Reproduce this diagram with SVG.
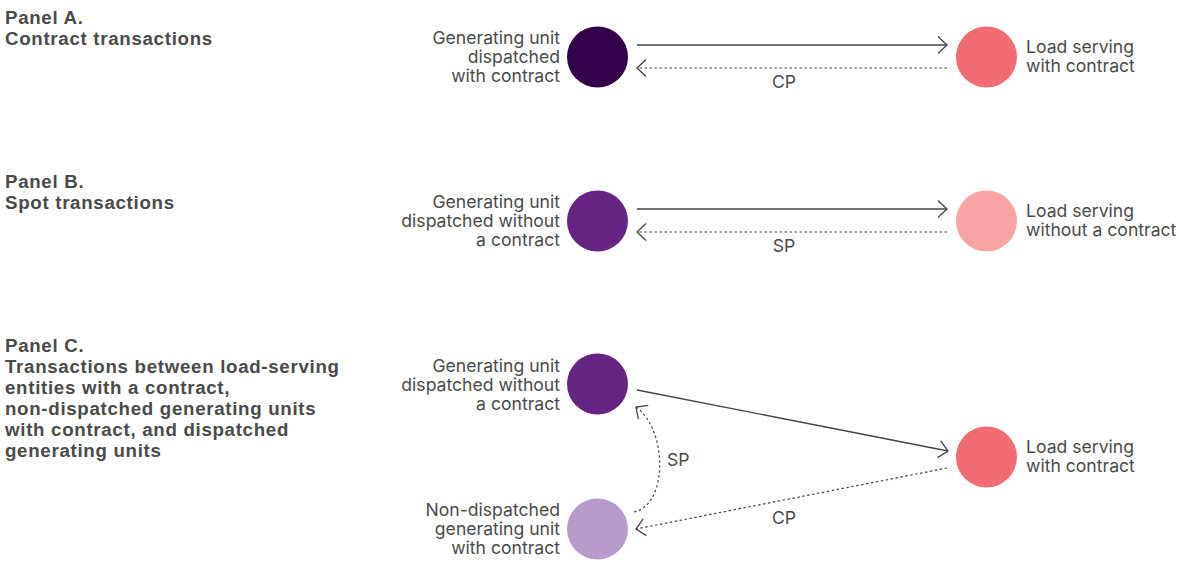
<svg xmlns="http://www.w3.org/2000/svg" width="1179" height="563" viewBox="0 0 1179 563">
<style>
.title{font-family:"Liberation Sans",Arial,sans-serif;font-weight:700;font-size:18.7px;letter-spacing:0.7px;fill:#4a4a4a}
.lbl{font-family:Inter,"Liberation Sans",sans-serif;font-size:17.6px;fill:#4a4a4a}
.r{text-anchor:end}
.m{text-anchor:middle}
.solid{stroke:#444;stroke-width:1.3;fill:none}
.dot{stroke:#444;stroke-width:1.2;fill:none;stroke-dasharray:2.5 2.5}
</style>
<defs>
<marker id="ah" markerWidth="12" markerHeight="20" refX="0" refY="0" viewBox="-11 -10 12 20" orient="auto" markerUnits="userSpaceOnUse">
<path d="M-9,-8.5 L0,0 L-9,8.5" fill="none" stroke="#444" stroke-width="1.3"/>
</marker>
</defs>
<g id="titles">
<text class="title" x="5" y="24">Panel A.</text>
<text class="title" x="5" y="45">Contract transactions</text>
<text class="title" x="5" y="188">Panel B.</text>
<text class="title" x="5" y="209">Spot transactions</text>
<text class="title" x="5" y="352">Panel C.</text>
<text class="title" x="5" y="373">Transactions between load-serving</text>
<text class="title" x="5" y="394">entities with a contract,</text>
<text class="title" x="5" y="415">non-dispatched generating units</text>
<text class="title" x="5" y="436">with contract, and dispatched</text>
<text class="title" x="5" y="457">generating units</text>
</g>
<g id="a-gen">
<circle cx="597.5" cy="57" r="30.5" fill="#33004a"/>
<text class="lbl r" x="560" y="44">Generating unit</text>
<text class="lbl r" x="560" y="63">dispatched</text>
<text class="lbl r" x="560" y="82">with contract</text>
</g>
<g id="a-load">
<circle cx="986.5" cy="57" r="30.5" fill="#f26d73"/>
<text class="lbl" x="1026" y="53">Load serving</text>
<text class="lbl" x="1026" y="72">with contract</text>
</g>
<g id="b-gen">
<circle cx="597.5" cy="221" r="30.5" fill="#662483"/>
<text class="lbl r" x="560" y="208">Generating unit</text>
<text class="lbl r" x="560" y="227">dispatched without</text>
<text class="lbl r" x="560" y="246">a contract</text>
</g>
<g id="b-load">
<circle cx="986.5" cy="221" r="30.5" fill="#f7a4a2"/>
<text class="lbl" x="1026" y="217">Load serving</text>
<text class="lbl" x="1026" y="236">without a contract</text>
</g>
<g id="c-gen">
<circle cx="597.5" cy="384" r="30.5" fill="#662483"/>
<text class="lbl r" x="560" y="372">Generating unit</text>
<text class="lbl r" x="560" y="391">dispatched without</text>
<text class="lbl r" x="560" y="410">a contract</text>
</g>
<g id="c-load">
<circle cx="986.5" cy="457" r="30.5" fill="#f26d73"/>
<text class="lbl" x="1026" y="453">Load serving</text>
<text class="lbl" x="1026" y="472">with contract</text>
</g>
<g id="c-nondisp">
<circle cx="597.5" cy="529" r="30.5" fill="#b79ccb"/>
<text class="lbl r" x="560" y="516">Non-dispatched</text>
<text class="lbl r" x="560" y="535">generating unit</text>
<text class="lbl r" x="560" y="554">with contract</text>
</g>
<g id="connectors">
<path class="solid" d="M637,45 L947,45" marker-end="url(#ah)"/>
<path class="dot" d="M947,68 L637,68" marker-end="url(#ah)"/>
<text class="lbl m" x="784" y="88">CP</text>
<path class="solid" d="M637,209 L947,209" marker-end="url(#ah)"/>
<path class="dot" d="M947,232 L637,232" marker-end="url(#ah)"/>
<text class="lbl m" x="784" y="252">SP</text>
<path class="solid" d="M637,390 L948,451" marker-end="url(#ah)"/>
<path class="dot" d="M947,468 L636,529" marker-end="url(#ah)"/>
<text class="lbl m" x="784" y="524">CP</text>
<path class="dot" d="M634,512 C668,505 668,430 636,407" marker-end="url(#ah)"/>
<text class="lbl" x="667" y="466">SP</text>
</g>
</svg>
